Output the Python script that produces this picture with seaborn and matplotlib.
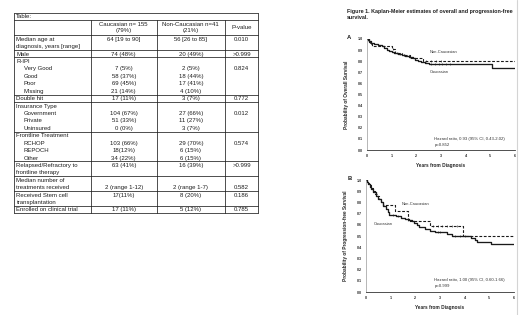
import numpy as np
import pandas as pd
import seaborn as sns
import matplotlib.pyplot as plt

# ---- table data (one entry per text line) ----
row_labels = ["Median age at", "diagnosis, years [range]", "Male", "R-IPI",
              "Very Good", "Good", "Poor", "Missing", "Double hit",
              "Insurance Type", "Government", "Private", "Uninsured",
              "Frontline Treatment", "RCHOP", "REPOCH", "Other",
              "Relapsed/Refractory to", "frontline therapy",
              "Median number of", "treatments received",
              "Received Stem cell", "transplantation",
              "Enrolled on clinical trial"]
cauc_vals = ["64 [19 to 90]", "", "74 (48%)", "", "7 (5%)", "58 (37%)",
             "69 (45%)", "21 (14%)", "17 (11%)", "", "104 (67%)", "51 (33%)",
             "0 (0%)", "", "103 (66%)", "18(12%)", "34 (22%)", "63 (41%)", "",
             "", "2 (range 1-12)", "17(11%)", "", "17 (11%)"]
noncauc_vals = ["56 [26 to 85]", "", "20 (49%)", "", "2 (5%)", "18 (44%)",
                "17 (41%)", "4 (10%)", "3 (7%)", "", "27 (66%)", "11 (27%)",
                "3 (7%)", "", "29 (70%)", "6 (15%)", "6 (15%)", "16 (39%)", "",
                "", "2 (range 1-7)", "8 (20%)", "", "5 (12%)"]
p_vals = ["0.010", "", ">0.999", "", "0.824", "", "", "", "0.772", "",
          "0.012", "", "", "", "0.574", "", "", ">0.999", "", "", "0.582",
          "0.186", "", "0.785"]
indented = [4, 5, 6, 7, 10, 11, 12, 14, 15, 16]
border_after = [1, 2, 7, 8, 12, 16, 18, 20, 22, 23]
header = ["Caucasian n= 155\n(79%)", "Non-Caucasian n=41\n(21%)", "P-value"]

# ---- Kaplan-Meier data ----
os_cauc_t = [0, 0.08, 0.15, 0.3, 0.45, 0.6, 0.7, 0.8, 0.9, 1.0, 1.1, 1.25,
             1.4, 1.55, 1.7, 1.85, 1.95, 2.05, 2.2, 2.35, 2.5, 5.07, 6.0]
os_cauc_s = [1.0, 0.985, 0.965, 0.955, 0.945, 0.935, 0.92, 0.905, 0.895,
             0.885, 0.875, 0.865, 0.855, 0.845, 0.835, 0.825, 0.815, 0.805,
             0.795, 0.785, 0.778, 0.739, 0.739]
os_non_t = [0, 0.05, 0.12, 0.2, 1.0, 1.15, 1.4, 1.75, 2.25, 6.0]
os_non_s = [1.0, 0.976, 0.951, 0.935, 0.91, 0.878, 0.854, 0.83, 0.805, 0.805]
os_cauc_cens = [1.2, 1.35, 1.5, 2.6, 2.75, 2.9, 3.05, 3.2, 3.35]
os_non_cens = [1.05, 1.5, 2.4, 2.6, 2.8, 3.0]

pfs_cauc_t = [0, 0.05, 0.1, 0.15, 0.2, 0.3, 0.4, 0.5, 0.6, 0.7, 0.8, 0.9,
              0.95, 1.2, 1.4, 1.6, 1.75, 1.85, 1.95, 2.05, 2.15, 2.4, 2.6,
              2.8, 3.3, 3.5, 4.25, 4.4, 4.5, 5.05, 6.0]
pfs_cauc_s = [1.0, 0.98, 0.96, 0.94, 0.92, 0.89, 0.86, 0.83, 0.80, 0.77,
              0.74, 0.71, 0.685, 0.675, 0.665, 0.655, 0.645, 0.635, 0.62,
              0.60, 0.58, 0.565, 0.545, 0.535, 0.52, 0.50, 0.48, 0.46,
              0.445, 0.425, 0.425]
pfs_non_t = [0, 0.05, 0.12, 0.2, 0.3, 0.38, 0.45, 0.52, 0.6, 0.68, 1.17,
             1.71, 2.6, 3.95, 6.0]
pfs_non_s = [1.0, 0.976, 0.951, 0.927, 0.902, 0.878, 0.854, 0.829, 0.805,
             0.78, 0.72, 0.63, 0.59, 0.497, 0.497]
pfs_cauc_cens = [1.1, 1.3, 2.9, 3.0, 3.6, 3.8, 4.0]
pfs_non_cens = [2.7, 2.9, 3.1, 3.3, 3.5, 3.7]

year_ticks = [0, 1, 2, 3, 4, 5, 6]
surv_ticks = [0.0, 0.1, 0.2, 0.3, 0.4, 0.5, 0.6, 0.7, 0.8, 0.9, 1.0]

sns.set_style('white')
plt.rcParams['font.family'] = ['Liberation Sans', 'DejaVu Sans']

fig = plt.figure(figsize=(5.2, 3.15), dpi=100)

# ---- table drawn in pixel coordinates ----
tab = fig.add_axes([0, 0, 1, 1])
tab.set_xlim(0, 520)
tab.set_ylim(315, 0)
tab.axis('off')

col_x = [14, 90.7, 156.7, 225, 258.3]
col_c = [(col_x[i] + col_x[i + 1]) / 2 for i in range(4)]
tcol = '#1e1e1e'
fs = 4.35
lw = 0.55
top, y_tab_line, y_head_line = 13.3, 20, 34.5
y0, step = 39.3, 7.42

tab.text(16, 16.8, "Table:", fontsize=fs, color=tcol, va='center')
for j, h in enumerate(header):
    tab.text(col_c[j + 1], 27.5, h, fontsize=fs, color=tcol, ha='center',
             va='center', linespacing=1.15)

for i in range(len(row_labels)):
    y = y0 + i * step
    x_lab = 23.5 if i in indented else 16.5
    tab.text(x_lab, y, row_labels[i], fontsize=fs, color=tcol, va='center')
    tab.text(col_c[1], y, cauc_vals[i], fontsize=fs, color=tcol, ha='center', va='center')
    tab.text(col_c[2], y, noncauc_vals[i], fontsize=fs, color=tcol, ha='center', va='center')
    tab.text(col_c[3], y, p_vals[i], fontsize=fs, color=tcol, ha='center', va='center')

bottom = y0 + border_after[-1] * step + 3.3
for yb in [top, y_tab_line, y_head_line] + [y0 + b * step + 3.3 for b in border_after]:
    tab.plot([col_x[0], col_x[-1]], [yb, yb], color=tcol, lw=lw)
tab.plot([col_x[0], col_x[0]], [top, bottom], color=tcol, lw=lw)
tab.plot([col_x[-1], col_x[-1]], [top, bottom], color=tcol, lw=lw)
for xc in col_x[1:-1]:
    tab.plot([xc, xc], [y_tab_line, bottom], color=tcol, lw=lw)

# page edge and figure captions
tab.plot([517, 517], [0, 315], color='#d4d4d4', lw=0.8)
tab.text(347, 14.5, "Figure 1. Kaplan-Meier estimates of overall and progression-free\nsurvival.",
         fontsize=3.9, fontweight='bold', color=tcol, va='center', linespacing=1.4)
tab.text(347, 37.5, "A", fontsize=4.2, fontweight='bold', color=tcol, va='center')
tab.text(348, 178, "B", fontsize=4.2, fontweight='bold', color=tcol, va='center')


def km_panel(rect, c_t, c_s, n_t, n_s, c_cens, n_cens, ylabel, notes, hr_text):
    ax = fig.add_axes(rect)
    df_c = pd.DataFrame({'t': c_t, 's': c_s})
    df_n = pd.DataFrame({'t': n_t, 's': n_s})
    sns.lineplot(data=df_c, x='t', y='s', drawstyle='steps-post', color='#1a1a1a',
                 lw=0.95, estimator=None, ax=ax)
    sns.lineplot(data=df_n, x='t', y='s', drawstyle='steps-post', color='#1a1a1a',
                 lw=0.8, linestyle=(0, (2.5, 1.5)), estimator=None, ax=ax)
    # censor marks on the step curves
    for cens, tt, ss in [(c_cens, c_t, c_s), (n_cens, n_t, n_s)]:
        idx = np.searchsorted(tt, cens, side='right') - 1
        ax.plot(cens, np.array(ss)[idx], ls='none', marker='|', ms=1.6,
                mew=0.4, color='#1a1a1a')
    ax.set_xlim(0, 6)
    ax.set_ylim(0, 1)
    ax.set_xticks(year_ticks)
    ax.set_yticks(surv_ticks)
    ax.set_xticklabels([str(v) for v in year_ticks], fontsize=2.6, fontweight='bold')
    ax.set_yticklabels([f"{v:.1f}" for v in surv_ticks], fontsize=2.6, fontweight='bold')
    ax.tick_params(axis='both', length=1.2, width=0.4, pad=2, color='#555555')
    ax.set_xlabel("Years from Diagnosis", fontsize=3.4, fontweight='bold', labelpad=3)
    ax.set_ylabel(ylabel, fontsize=3.4, fontweight='bold', labelpad=6)
    sns.despine(ax=ax)
    ax.spines['left'].set_linewidth(0.5)
    ax.spines['left'].set_color('#9a9a9a')
    ax.spines['bottom'].set_linewidth(0.6)
    ax.spines['bottom'].set_color('#333333')
    ax.patch.set_alpha(0)
    for (x, y, s) in notes:
        ax.text(x, y, s, fontsize=2.9, color='#333333', va='center')
    ax.text(hr_text[0], hr_text[1], hr_text[2], fontsize=3.1, color='#333333',
            va='center', linespacing=1.5)
    return ax


km_panel([367 / 520, 1 - 150 / 315, 148 / 520, 111 / 315],
         os_cauc_t, os_cauc_s, os_non_t, os_non_s, os_cauc_cens, os_non_cens,
         "Probability of Overall Survival",
         [(2.55, 0.885, "Non-Caucasian"), (2.55, 0.705, "Caucasian")],
         (2.73, 0.07, "Hazard ratio, 0.93 (95% CI, 0.43-2.02)\np=0.852"))

km_panel([366 / 520, 1 - 292 / 315, 148 / 520, 112 / 315],
         pfs_cauc_t, pfs_cauc_s, pfs_non_t, pfs_non_s, pfs_cauc_cens, pfs_non_cens,
         "Probability of Progression-free Survival",
         [(1.45, 0.79, "Non-Caucasian"), (0.3, 0.61, "Caucasian")],
         (2.77, 0.08, "Hazard ratio, 1.00 (95% CI, 0.60-1.66)\np=0.999"))

fig.savefig('out.png', dpi=100)
